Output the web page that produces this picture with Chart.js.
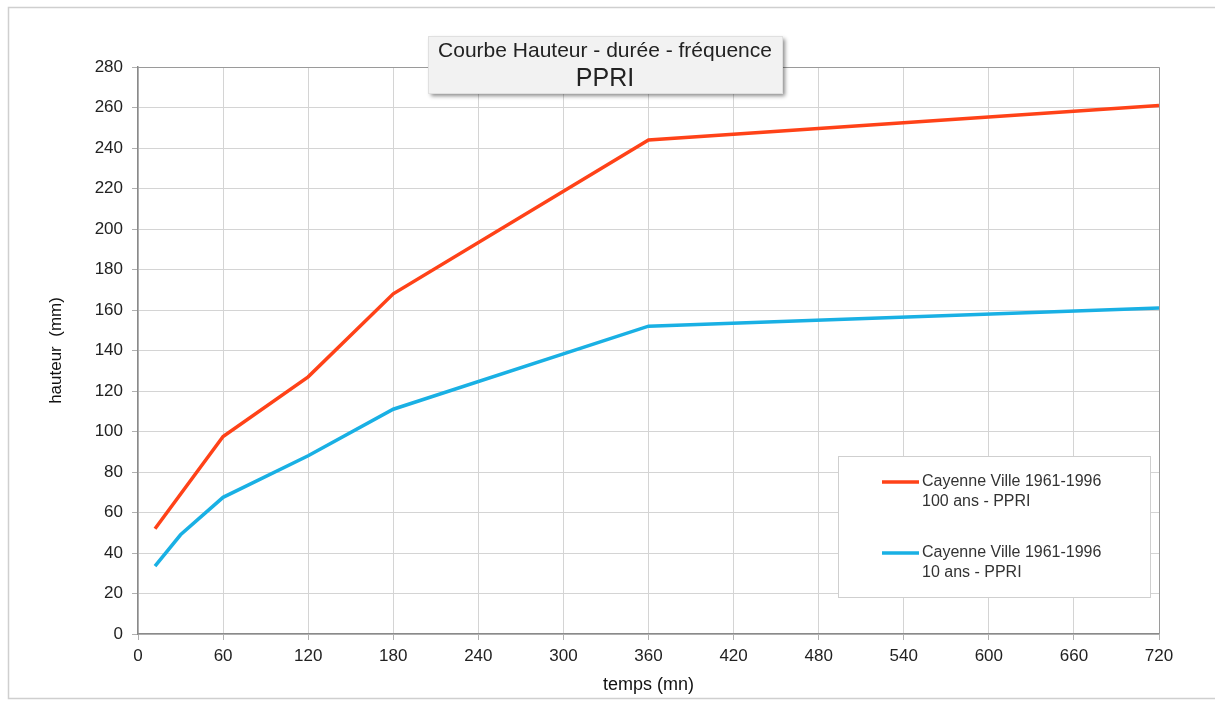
<!DOCTYPE html>
<html>
<head>
<meta charset="utf-8">
<script src="https://cdn.jsdelivr.net/npm/chart.js@4/dist/chart.umd.min.js"></script>
<style>
  html, body { margin: 0; padding: 0; background: #ffffff; }
  #wrap { width: 1215px; height: 702px; position: relative; }
</style>
</head>
<body>
<div id="wrap"><canvas id="c" width="1215" height="702"></canvas></div>
<script>
// ---- data ----
const durations100 = [12, 60, 120, 180, 360, 720];
const heights100 = [52, 97.5, 127, 168, 244, 261];
const durations10 = [12, 30, 60, 120, 180, 360, 720];
const heights10 = [33.5, 49, 67.5, 88, 111, 152, 161];
const seriesLabels = [
  ["Cayenne Ville 1961-1996", "100 ans - PPRI"],
  ["Cayenne Ville 1961-1996", "10 ans - PPRI"]
];
const titleLines = ["Courbe Hauteur - durée - fréquence", "PPRI"];
const xTitle = "temps (mn)";
const yTitle = "hauteur  (mm)";
const xMin = 0, xMax = 720, xStep = 60;
const yMin = 0, yMax = 280, yStep = 20;

const FONT = "'Liberation Sans', Arial, sans-serif";

function pts(xs, ys) { return xs.map((x, i) => ({ x: x, y: ys[i] })); }

const framePlugin = {
  id: 'frame',
  beforeDraw(chart) {
    const ctx = chart.ctx;
    ctx.save();
    ctx.strokeStyle = '#cfcfcf';
    ctx.lineWidth = 1.5;
    ctx.strokeRect(8.5, 7.5, 1215, 691);
    ctx.restore();
  },
  afterDatasetsDraw(chart) {
    const ctx = chart.ctx;
    const a = chart.chartArea;
    ctx.save();
    ctx.strokeStyle = '#9a9a9a';
    ctx.lineWidth = 1;
    ctx.beginPath();
    ctx.moveTo(a.left, a.top + 0.5);
    ctx.lineTo(a.right + 0.5, a.top + 0.5);
    ctx.lineTo(a.right + 0.5, a.bottom);
    ctx.stroke();
    ctx.restore();
  },
  afterDraw(chart) {
    const ctx = chart.ctx;
    ctx.save();
    // title box
    const bx = 428, by = 36, bw = 354, bh = 57;
    ctx.shadowColor = 'rgba(0,0,0,0.45)';
    ctx.shadowBlur = 4;
    ctx.shadowOffsetX = 3;
    ctx.shadowOffsetY = 3;
    ctx.fillStyle = '#f2f2f2';
    ctx.fillRect(bx, by, bw, bh);
    ctx.shadowColor = 'transparent';
    ctx.shadowBlur = 0;
    ctx.shadowOffsetX = 0;
    ctx.shadowOffsetY = 0;
    ctx.strokeStyle = '#e0e0e0';
    ctx.lineWidth = 1;
    ctx.strokeRect(bx + 0.5, by + 0.5, bw, bh);
    ctx.fillStyle = '#222';
    ctx.textAlign = 'center';
    ctx.textBaseline = 'middle';
    ctx.font = '21px ' + FONT;
    ctx.fillText(titleLines[0], bx + bw / 2, 51);
    ctx.font = '25px ' + FONT;
    ctx.fillText(titleLines[1], bx + bw / 2, 79);

    // legend box
    const lx = 838, ly = 456, lw = 312, lh = 141;
    ctx.fillStyle = '#ffffff';
    ctx.fillRect(lx, ly, lw, lh);
    ctx.strokeStyle = '#cfcfcf';
    ctx.strokeRect(lx + 0.5, ly + 0.5, lw, lh);
    const rowY = [482, 553];
    chart.data.datasets.forEach((ds, i) => {
      const y = rowY[i];
      ctx.strokeStyle = ds.borderColor;
      ctx.lineWidth = 3.5;
      ctx.beginPath();
      ctx.moveTo(882, y);
      ctx.lineTo(919, y);
      ctx.stroke();
      ctx.fillStyle = '#333';
      ctx.textAlign = 'left';
      ctx.textBaseline = 'middle';
      ctx.font = '16px ' + FONT;
      const lines = Array.isArray(ds.label) ? ds.label : [ds.label];
      lines.forEach((t, j) => ctx.fillText(t, 922, y + j * 20));
    });
    ctx.restore();
  }
};

new Chart(document.getElementById('c'), {
  type: 'scatter',
  data: {
    datasets: [
      {
        label: seriesLabels[0],
        data: pts(durations100, heights100),
        showLine: true,
        borderColor: '#ff4218',
        backgroundColor: '#ff4218',
        borderWidth: 3.5,
        pointRadius: 0,
        tension: 0
      },
      {
        label: seriesLabels[1],
        data: pts(durations10, heights10),
        showLine: true,
        borderColor: '#19b0e4',
        backgroundColor: '#19b0e4',
        borderWidth: 3.5,
        pointRadius: 0,
        tension: 0
      }
    ]
  },
  options: {
    responsive: false,
    animation: false,
    devicePixelRatio: 1,
    layout: { padding: { left: 0, top: 67, right: 56, bottom: 0 } },
    plugins: {
      legend: { display: false },
      tooltip: { enabled: false },
      title: { display: false }
    },
    scales: {
      x: {
        type: 'linear',
        min: xMin, max: xMax,
        afterFit(s) { s.height = 68; },
        ticks: { stepSize: xStep, color: '#222', font: { size: 17, family: FONT }, padding: 6, maxRotation: 0 },
        grid: { color: '#d4d4d4', lineWidth: 1, tickLength: 6, tickColor: '#b0b0b0' },
        border: { color: '#8a8a8a', width: 1.5 },
        title: { display: true, text: xTitle, color: '#111', font: { size: 18, family: FONT }, padding: { top: 0, bottom: 6 } }
      },
      y: {
        type: 'linear',
        min: yMin, max: yMax,
        afterFit(s) { s.width = 138; },
        ticks: { stepSize: yStep, color: '#222', font: { size: 17, family: FONT }, padding: 9 },
        grid: { color: '#d4d4d4', lineWidth: 1, tickLength: 6, tickColor: '#b0b0b0' },
        border: { color: '#8a8a8a', width: 1.5 },
        title: { display: true, text: yTitle, color: '#111', font: { size: 17, family: FONT }, padding: { top: 46, bottom: 0 } }
      }
    }
  },
  plugins: [framePlugin]
});
</script>
</body>
</html>
